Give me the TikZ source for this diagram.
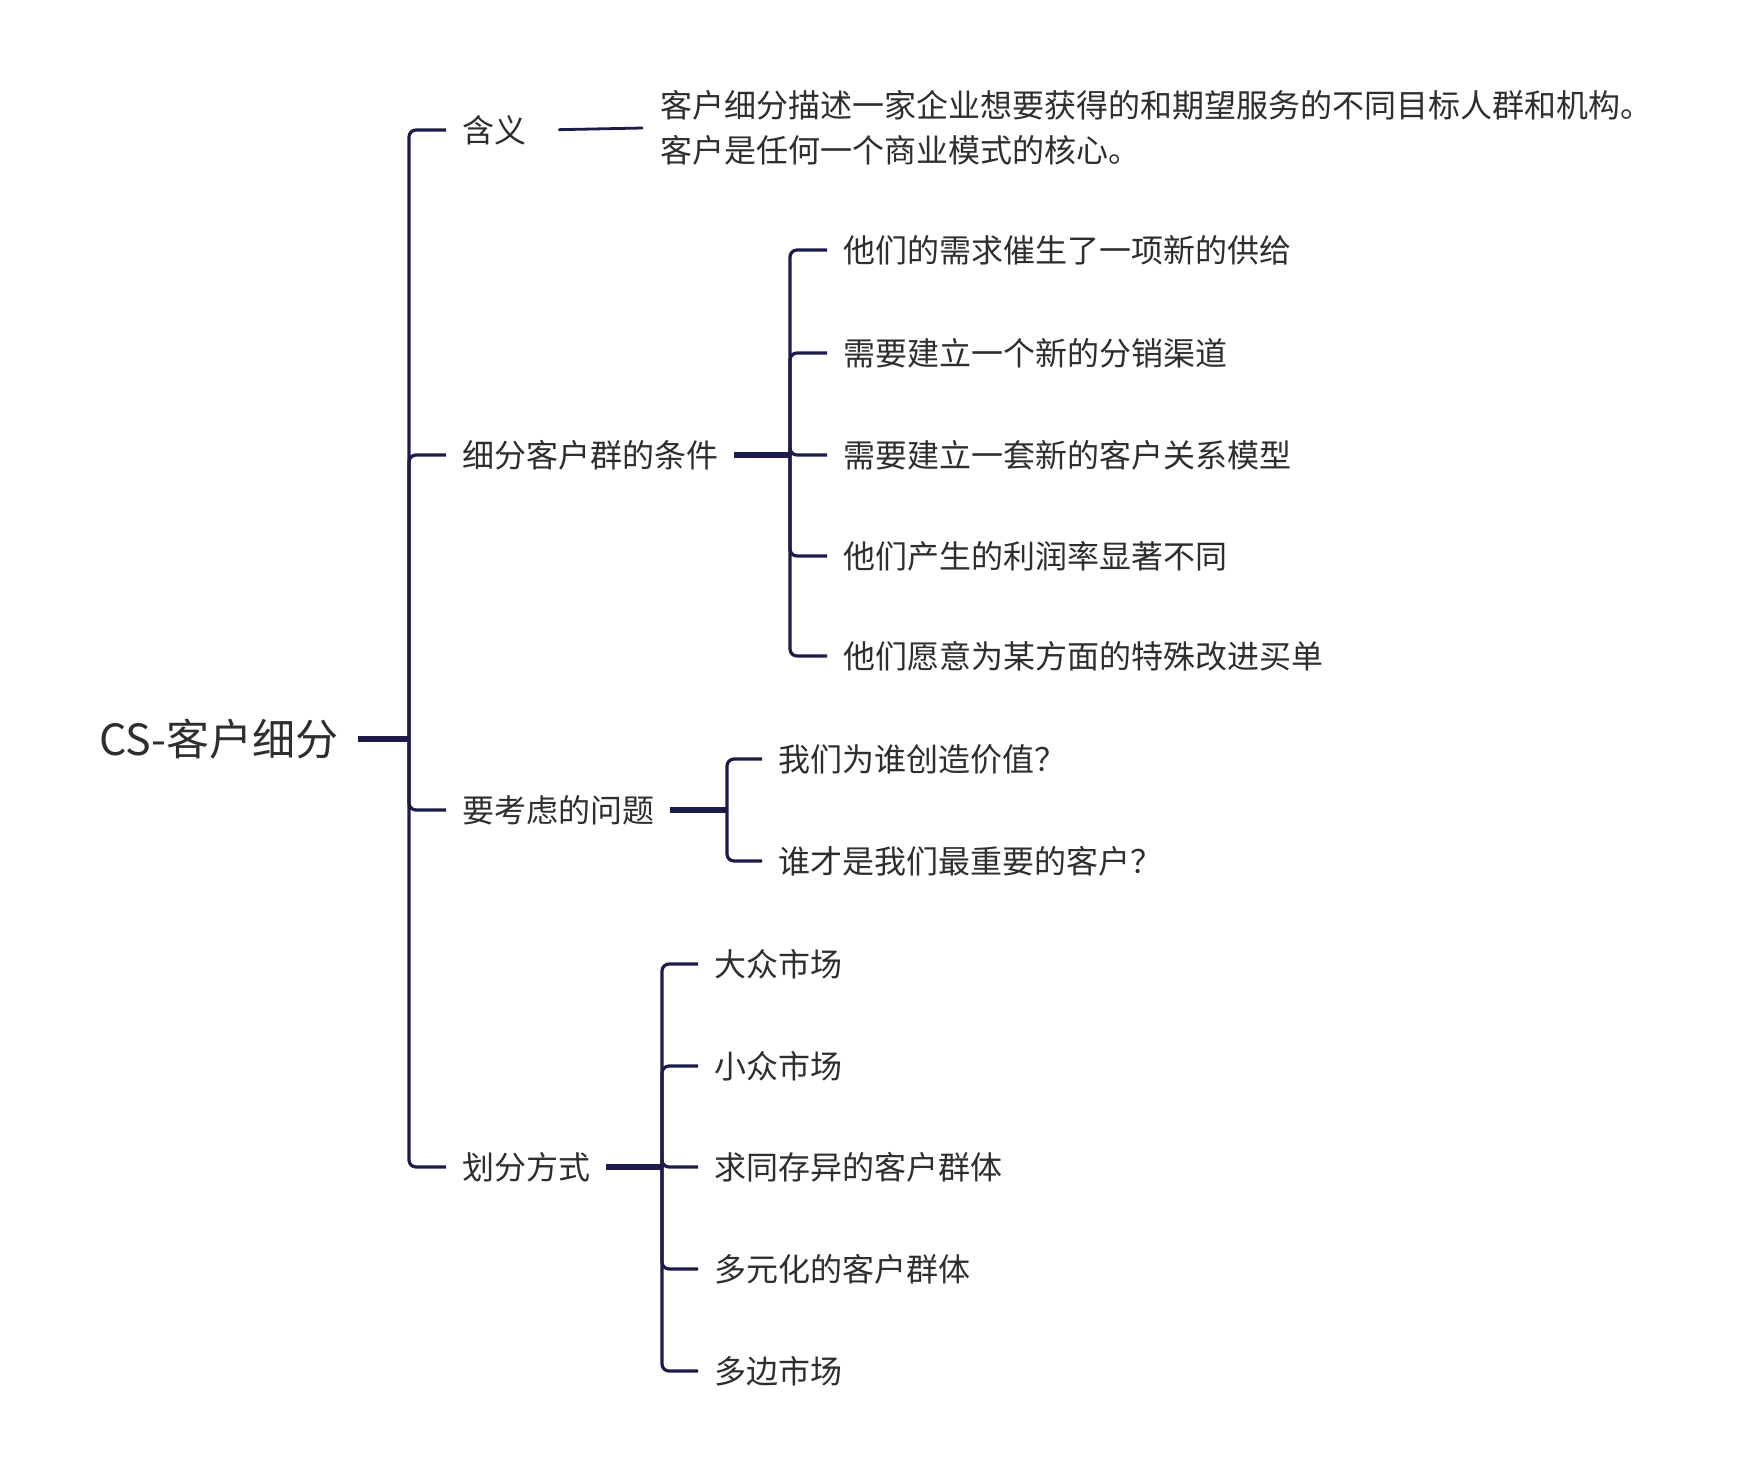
\documentclass[tikz,border=0pt]{standalone}
\usepackage{fontspec}
\setmainfont{Noto Sans CJK SC}
\usepackage{tikz}
\usetikzlibrary{calc, positioning}
\definecolor{lineNavy}{HTML}{1C1C4A}
\definecolor{textGray}{HTML}{2E2E2E}

\begin{document}
\begin{tikzpicture}[x=1pt, y=-1pt,
    label/.style={text=textGray, font=\fontsize{32}{45}\selectfont, inner xsep=16pt, inner ysep=0pt, anchor=west},
    rootbox/.style={text=textGray, font=\fontsize{43}{50}\selectfont, inner xsep=19pt, inner ysep=0pt, anchor=west},
    branch/.style={draw=lineNavy, line width=3.2pt, rounded corners=7pt},
    stem/.style={draw=lineNavy, line width=5.5pt}]
    \useasboundingbox[fill=white] (0,0) rectangle (1760,1472);

    \node[rootbox] (root) at (80,739) {CS-客户细分};
    \coordinate (trunk) at (409,739);
    \draw[stem] (root.east) -- (trunk);

    \node[label] (mean) at (446,130) {含义};
    \node[label] (cond) at (446,455) {细分客户群的条件};
    \node[label] (ques) at (446,810) {要考虑的问题};
    \node[label] (way) at (446,1167) {划分方式};
    \foreach \n in {mean, cond, ques, way}
        \draw[branch] (trunk) |- (\n.west);

    \node[label, align=left, inner xsep=17pt] (meantext) at (643,128) {客户细分描述一家企业想要获得的和期望服务的不同目标人群和机构。\\客户是任何一个商业模式的核心。};
    \draw[lineNavy, line width=2.8pt, shorten <=16pt] (mean.east) -- (meantext.west);

    % conditions
    \coordinate (condtrunk) at (790,455);
    \draw[stem] (cond.east) -- (condtrunk);
    \node[label] (c1) at (827,250) {他们的需求催生了一项新的供给};
    \node[label] (c2) at (827,353) {需要建立一个新的分销渠道};
    \node[label] (c3) at (827,455) {需要建立一套新的客户关系模型};
    \node[label] (c4) at (827,556) {他们产生的利润率显著不同};
    \node[label] (c5) at (827,656) {他们愿意为某方面的特殊改进买单};
    \foreach \n in {c1, c2, c3, c4, c5}
        \draw[branch] (condtrunk) |- (\n.west);

    % questions
    \coordinate (questrunk) at (727,810);
    \draw[stem] (ques.east) -- (questrunk);
    \node[label] (q1) at (762,759) {我们为谁创造价值？};
    \node[label] (q2) at (762,861) {谁才是我们最重要的客户？};
    \foreach \n in {q1, q2}
        \draw[branch] (questrunk) |- (\n.west);

    % ways
    \coordinate (waytrunk) at (662,1167);
    \draw[stem] (way.east) -- (waytrunk);
    \node[label] (w1) at (698,964) {大众市场};
    \node[label] (w2) at (698,1066) {小众市场};
    \node[label] (w3) at (698,1167) {求同存异的客户群体};
    \node[label] (w4) at (698,1269) {多元化的客户群体};
    \node[label] (w5) at (698,1371) {多边市场};
    \foreach \n in {w1, w2, w3, w4, w5}
        \draw[branch] (waytrunk) |- (\n.west);
\end{tikzpicture}
\end{document}
